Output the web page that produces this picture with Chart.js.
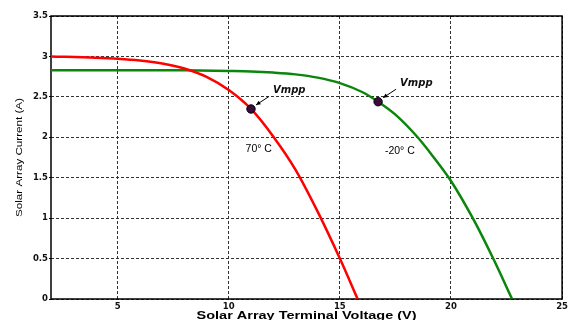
<!DOCTYPE html>
<html>
<head>
<meta charset="utf-8">
<script src="https://cdn.jsdelivr.net/npm/chart.js@4/dist/chart.umd.min.js"></script>
<style>
  html, body { margin: 0; padding: 0; background: #fff; }
  #wrap { width: 571px; height: 320px; position: relative; }
</style>
</head>
<body>
<div id="wrap"><canvas id="iv"></canvas></div>
<script>
// I-V curves of the solar array at two temperatures
const voltage70  = [2, 4, 5, 6, 7, 8, 9, 10, 11, 12, 13, 14, 15, 15.8];
const current70  = [3.0, 2.985, 2.972, 2.95, 2.913, 2.85, 2.746, 2.584, 2.35, 2.01, 1.60, 1.08, 0.5, 0];

const voltageM20 = [2, 6, 8, 10, 11, 12, 13, 14, 15, 16, 16.72, 17.5, 18.5, 19.2, 20, 21, 21.9, 22.75];
const currentM20 = [2.83, 2.83, 2.828, 2.82, 2.814, 2.80, 2.778, 2.738, 2.67, 2.56, 2.44, 2.28, 2.0, 1.76, 1.46, 0.99, 0.5, 0];

// maximum power points (70 °C, -20 °C)
const vmppV = [11, 16.72];
const vmppI = [2.35, 2.44];
const vmppText = 'Vmpp';

// curve labels
const tempLabels = ['70\u00B0 C', '-20\u00B0 C'];
const tempLabelV = [11.35, 17.7];
const tempLabelI = [1.85, 1.83];

const xTicks = [5, 10, 15, 20, 25];
const yTicks = [0, 0.5, 1, 1.5, 2, 2.5, 3, 3.5];

const xTitle = 'Solar Array Terminal Voltage (V)';
const yTitle = 'Solar Array Current (A)';

const pts = (xs, ys) => xs.map((x, i) => ({ x: x, y: ys[i] }));

Chart.defaults.font.family = '"Liberation Sans", Arial, sans-serif';

function drawFitted(ctx, text, font, cx, cy, targetW, angle) {
  ctx.save();
  ctx.font = font;
  const w = ctx.measureText(text).width;
  ctx.translate(cx, cy);
  ctx.rotate(angle);
  ctx.scale(targetW / w, 1);
  ctx.textAlign = 'center';
  ctx.textBaseline = 'middle';
  ctx.fillText(text, 0, 0);
  ctx.restore();
}

const decor = {
  id: 'decor',
  beforeDatasetsDraw(chart) {
    const { ctx, chartArea: a } = chart;
    ctx.save();
    ctx.strokeStyle = '#000';
    ctx.lineWidth = 1.5;
    ctx.strokeRect(a.left, a.top, a.right - a.left, a.bottom - a.top);
    ctx.restore();
  },
  afterDraw(chart) {
    const { ctx, chartArea: a } = chart;
    const xs = chart.scales.x, ys = chart.scales.y;
    ctx.save();
    ctx.fillStyle = '#000';

    // axis titles
    drawFitted(ctx, xTitle, 'bold 11px "Liberation Sans", Arial, sans-serif',
      (a.left + a.right) / 2, 316, 220, 0);
    drawFitted(ctx, yTitle, '9.5px "Liberation Sans", Arial, sans-serif',
      19, (a.top + a.bottom) / 2, 119, -Math.PI / 2);

    // Vmpp callouts with arrows
    for (let i = 0; i < vmppV.length; i++) {
      const px = xs.getPixelForValue(vmppV[i]);
      const py = ys.getPixelForValue(vmppI[i]);
      const sx = px + 18, sy = py - 12.5;
      const ex = px + 5, ey = py - 4;
      ctx.strokeStyle = '#000';
      ctx.lineWidth = 1;
      ctx.beginPath();
      ctx.moveTo(sx, sy);
      ctx.lineTo(ex, ey);
      ctx.stroke();
      const ang = Math.atan2(ey - sy, ex - sx);
      ctx.beginPath();
      ctx.moveTo(ex, ey);
      ctx.lineTo(ex - 5 * Math.cos(ang - 0.45), ey - 5 * Math.sin(ang - 0.45));
      ctx.lineTo(ex - 5 * Math.cos(ang + 0.45), ey - 5 * Math.sin(ang + 0.45));
      ctx.closePath();
      ctx.fill();

      ctx.save();
      ctx.font = 'italic bold 10px "DejaVu Sans", sans-serif';
      ctx.textAlign = 'left';
      ctx.textBaseline = 'alphabetic';
      ctx.fillStyle = '#111';
      ctx.fillText(vmppText, px + 22, py - 16);
      ctx.restore();
    }

    // temperature labels
    ctx.font = '10.5px "Liberation Sans", Arial, sans-serif';
    ctx.textAlign = 'center';
    ctx.textBaseline = 'middle';
    for (let i = 0; i < tempLabels.length; i++) {
      ctx.fillText(tempLabels[i], xs.getPixelForValue(tempLabelV[i]), ys.getPixelForValue(tempLabelI[i]));
    }
    ctx.restore();
  }
};

const tickFont = { family: '"DejaVu Sans", sans-serif', weight: 'bold', size: 8.5 };

new Chart(document.getElementById('iv'), {
  type: 'line',
  data: {
    datasets: [
      {
        type: 'scatter',
        data: pts(vmppV, vmppI),
        backgroundColor: '#3b0c3b',
        borderColor: '#000',
        borderWidth: 1,
        pointRadius: 4.2,
        pointHoverRadius: 4.2
      },
      {
        data: pts(voltage70, current70),
        borderColor: '#ff0000',
        borderWidth: 2.5,
        pointRadius: 0,
        cubicInterpolationMode: 'monotone',
        fill: false
      },
      {
        data: pts(voltageM20, currentM20),
        borderColor: '#0b860b',
        borderWidth: 2.5,
        pointRadius: 0,
        cubicInterpolationMode: 'monotone',
        fill: false
      }
    ]
  },
  options: {
    responsive: true,
    maintainAspectRatio: false,
    animation: false,
    layout: { padding: { top: 16, right: 6, left: 0, bottom: 0 } },
    plugins: { legend: { display: false }, tooltip: { enabled: false } },
    scales: {
      x: {
        type: 'linear',
        min: 2,
        max: 25,
        afterBuildTicks: s => { s.ticks = xTicks.map(v => ({ value: v })); },
        afterFit: s => { s.height = 21; },
        grid: { color: '#333', lineWidth: 1, drawTicks: false },
        border: { display: false, dash: [3, 2] },
        ticks: { font: tickFont, color: '#111', padding: 3, maxRotation: 0, callback: v => String(v) }
      },
      y: {
        type: 'linear',
        min: 0,
        max: 3.5,
        afterBuildTicks: s => { s.ticks = yTicks.map(v => ({ value: v })); },
        afterFit: s => { s.width = 51; },
        grid: { color: '#333', lineWidth: 1, drawTicks: true, tickLength: 2, tickColor: '#000', tickBorderDash: [] },
        border: { display: false, dash: [3, 2] },
        ticks: { font: tickFont, color: '#111', padding: 1, callback: v => String(v) }
      }
    }
  },
  plugins: [decor]
});
</script>
</body>
</html>
